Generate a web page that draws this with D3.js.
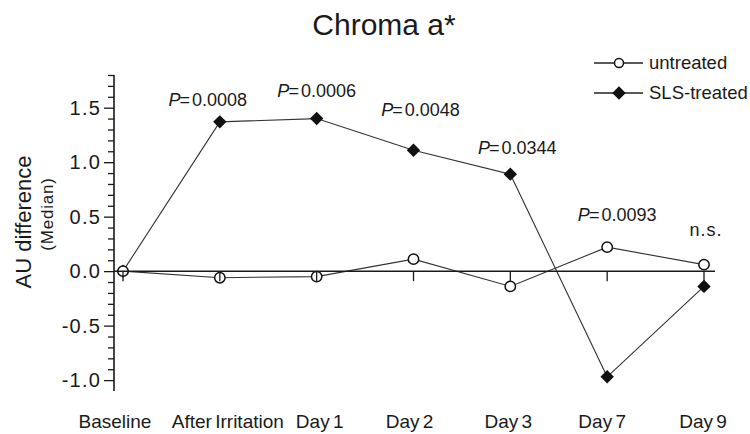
<!DOCTYPE html>
<html>
<head>
<meta charset="utf-8">
<script src="https://cdn.jsdelivr.net/npm/d3@7"></script>
<style>
  html, body { margin: 0; padding: 0; background: #fff; }
  svg { display: block; font-family: "Liberation Sans", Arial, Helvetica, sans-serif; }
</style>
</head>
<body>
<svg id="chart" width="750" height="434"></svg>
<script>
// Time points along the x axis
const categories = ["Baseline", "After Irritation", "Day 1", "Day 2", "Day 3", "Day 7", "Day 9"];
// Median chroma a* difference (AU) per time point
const untreated = [0, -0.06, -0.05, 0.11, -0.14, 0.22, 0.06];
const slsTreated = [0, 1.37, 1.40, 1.11, 0.89, -0.97, -0.14];
// Significance annotation per time point (null = none)
const pValues = [null, "0.0008", "0.0006", "0.0048", "0.0344", "0.0093", "n.s."];
// Labelled y ticks
const yTicks = [-1.0, -0.5, 0.0, 0.5, 1.0, 1.5];
const yDomain = [-1.1, 1.8];

const svg = d3.select("#chart");
const ink = "#1a1a1a";

const x = d3.scalePoint().domain(categories).range([123, 704]);
const y = d3.scaleLinear().domain(yDomain).range([391, 75]);
const axisX = 114;

// Title
svg.append("text")
  .attr("x", 384).attr("y", 35)
  .attr("text-anchor", "middle")
  .attr("font-size", 30)
  .attr("fill", ink)
  .text("Chroma a*");

// Y axis: labelled major ticks plus 0.1 minor ticks
const minorTicks = d3.range(-10, 19).map(d => d / 10).filter(v => !yTicks.some(t => Math.abs(t - v) < 1e-9));
const gY = svg.append("g").attr("transform", `translate(${axisX},0)`);
gY.call(d3.axisLeft(y).tickValues(minorTicks).tickSize(6).tickFormat(""))
  .call(g => g.select(".domain").remove());
gY.append("g").call(d3.axisLeft(y).tickValues(yTicks).tickSize(10).tickSizeOuter(0)
    .tickFormat(d => d.toFixed(1)).tickPadding(3))
  .call(g => g.select(".domain").remove())
  .call(g => g.selectAll("text").attr("font-size", 20).attr("letter-spacing", 1.2)
      .attr("fill", ink).attr("font-family", "Liberation Sans, Arial, sans-serif"));
gY.selectAll("line").attr("stroke", ink).attr("stroke-width", 1.3);
gY.append("line")
  .attr("x1", 0).attr("x2", 0)
  .attr("y1", y(yDomain[0])).attr("y2", y(yDomain[1]))
  .attr("stroke", ink).attr("stroke-width", 1.6);

// Y axis title
svg.append("text")
  .attr("transform", "translate(31,222) rotate(-90)")
  .attr("text-anchor", "middle")
  .attr("font-size", 22)
  .attr("fill", ink)
  .text("AU difference");
svg.append("text")
  .attr("transform", "translate(53,214) rotate(-90)")
  .attr("text-anchor", "middle")
  .attr("font-size", 17)
  .attr("letter-spacing", 0.8)
  .attr("fill", ink)
  .text("(Median)");

// Series lines
const line = d3.line().x((d, i) => x(categories[i])).y(d => y(d));
svg.append("path").datum(untreated)
  .attr("d", line).attr("fill", "none")
  .attr("stroke", "#333").attr("stroke-width", 1.1);
svg.append("path").datum(slsTreated)
  .attr("d", line).attr("fill", "none")
  .attr("stroke", "#333").attr("stroke-width", 1.1);

// Markers
const diamond = d3.symbol().type(d3.symbolDiamond2).size(115);
svg.append("g").selectAll("path").data(slsTreated).join("path")
  .attr("transform", (d, i) => `translate(${x(categories[i])},${y(d)})`)
  .attr("d", diamond)
  .attr("fill", "#111");
svg.append("g").selectAll("circle").data(untreated).join("circle")
  .attr("cx", (d, i) => x(categories[i]))
  .attr("cy", d => y(d))
  .attr("r", 5.2)
  .attr("fill", "#fff")
  .attr("stroke", "#111")
  .attr("stroke-width", 1.5);

// Zero line with downward category ticks
const gX = svg.append("g").attr("transform", `translate(0,${y(0)})`);
gX.append("line")
  .attr("x1", axisX).attr("x2", 715)
  .attr("stroke", ink).attr("stroke-width", 1.5);
gX.selectAll("line.tick").data(categories).join("line")
  .attr("class", "tick")
  .attr("x1", d => x(d)).attr("x2", d => x(d))
  .attr("y1", 0).attr("y2", 10)
  .attr("stroke", ink).attr("stroke-width", 1.3);

// Category labels, nudged sideways so neighbours keep a gap
const catShift = [-8, 8, 3, -4, -2, -5, -1];
svg.append("g").selectAll("text").data(categories).join("text")
  .attr("x", (d, i) => x(d) + catShift[i])
  .attr("y", 428)
  .attr("text-anchor", "middle")
  .attr("font-size", 19)
  .attr("word-spacing", -2)
  .attr("fill", ink)
  .text(d => d);

// Significance labels above the higher of the two points
const labelLift = [0, 16, 22, 34, 20, 26, 29];
const labelShift = [0, -12, 0, 7, 7, 10, 2];
pValues.forEach((p, i) => {
  if (p === null) return;
  const top = Math.min(y(untreated[i]), y(slsTreated[i]));
  const t = svg.append("text")
    .attr("x", x(categories[i]) + labelShift[i])
    .attr("y", top - labelLift[i])
    .attr("text-anchor", "middle")
    .attr("font-size", 18)
    .attr("fill", ink);
  if (p === "n.s.") {
    t.attr("letter-spacing", 1).text(p);
  } else {
    t.append("tspan").attr("font-style", "italic").text("P");
    t.append("tspan").attr("dx", -1).text("=");
    t.append("tspan").attr("dx", 2).text(p);
  }
});

// Legend
const legend = [
  { name: "untreated", kind: "circle", cy: 63 },
  { name: "SLS-treated", kind: "diamond", cy: 93 }
];
const lg = svg.append("g");
legend.forEach(item => {
  const g = lg.append("g").attr("transform", `translate(0,${item.cy})`);
  g.append("line").attr("x1", 594).attr("x2", 643)
    .attr("stroke", "#222").attr("stroke-width", 1.3);
  if (item.kind === "circle") {
    g.append("circle").attr("cx", 619).attr("cy", 0).attr("r", 4.5)
      .attr("fill", "#fff").attr("stroke", "#111").attr("stroke-width", 1.5);
  } else {
    g.append("path").attr("transform", "translate(619,0)")
      .attr("d", diamond).attr("fill", "#111");
  }
  g.append("text").attr("x", 649).attr("y", 0).attr("dy", "0.35em")
    .attr("font-size", 18.5).attr("fill", ink).text(item.name);
});
</script>
</body>
</html>
